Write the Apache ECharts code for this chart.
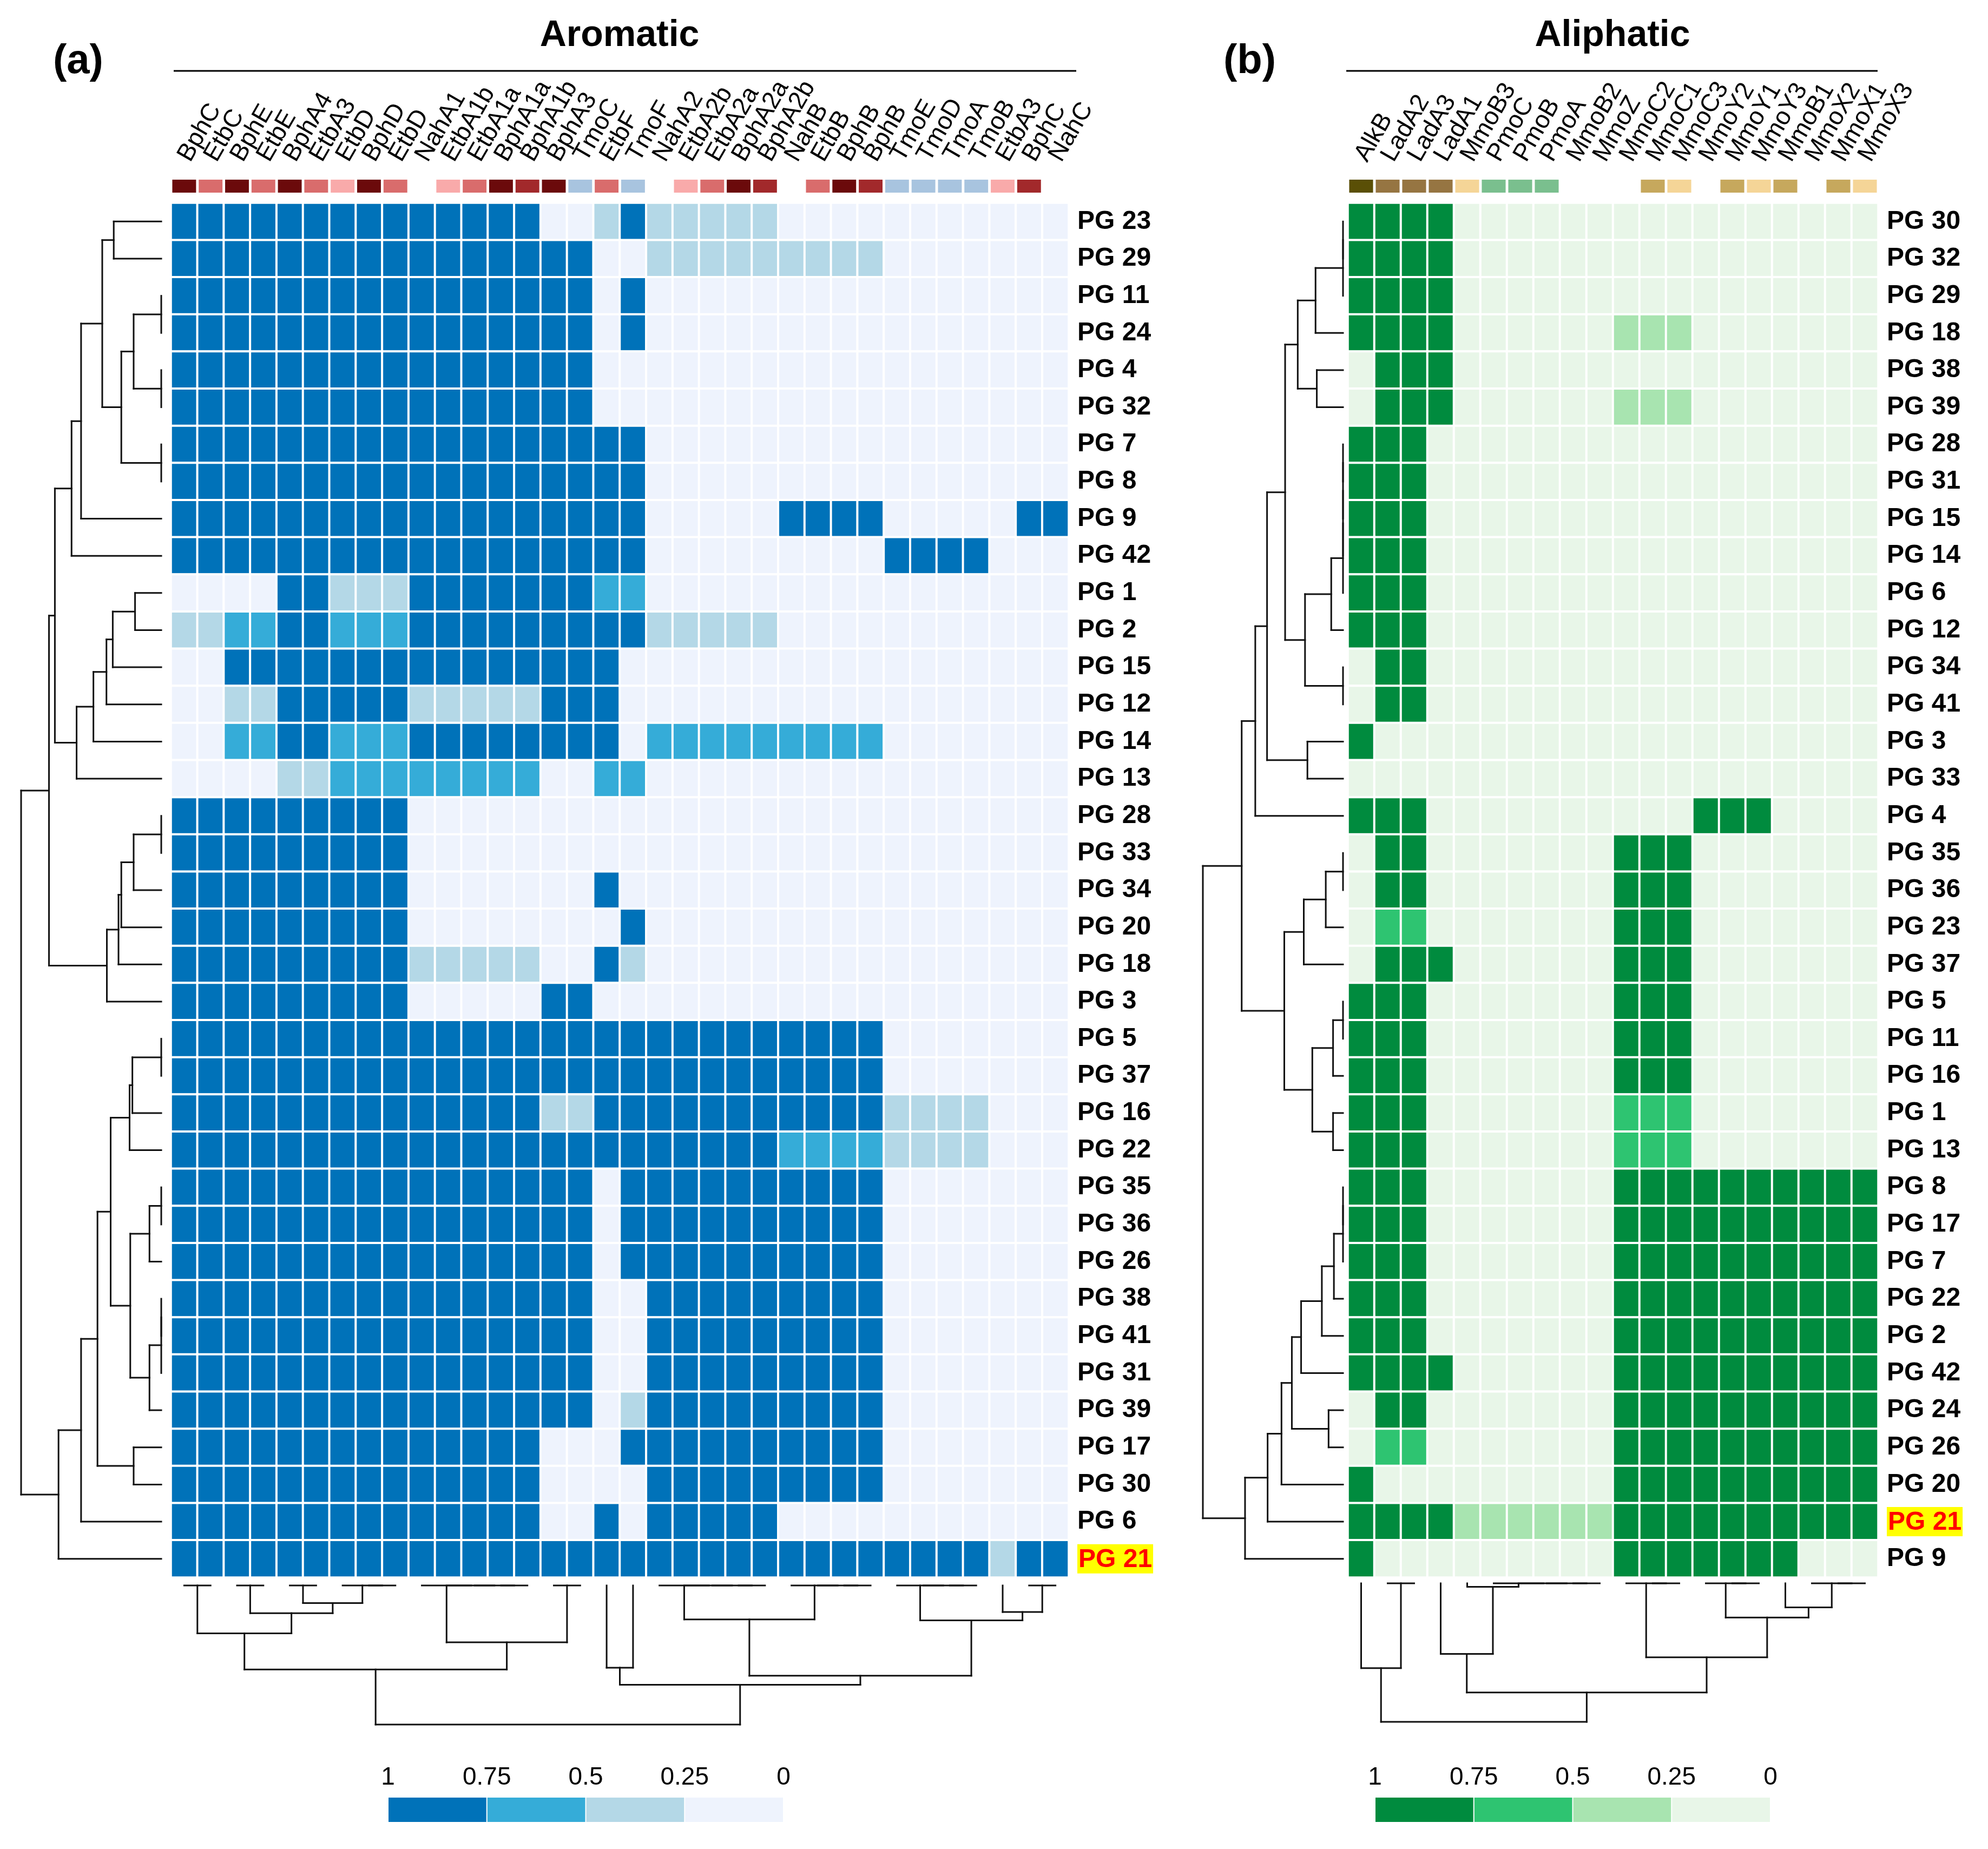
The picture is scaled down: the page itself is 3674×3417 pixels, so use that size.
<!DOCTYPE html>
<html><head><meta charset="utf-8">
<script src="https://cdn.jsdelivr.net/npm/echarts@6/dist/echarts.min.js"></script>
<style>html,body{margin:0;padding:0;background:#fff}#c{width:3674px;height:3417px}</style>
</head><body><div id="c"></div>
<script>
const FONT = "'Liberation Sans', Arial, sans-serif";

// ---------- Aromatic (a) ----------
const aroGenes = ['BphC','EtbC','BphE','EtbE','BphA4','EtbA3','EtbD','BphD','EtbD','NahA1','EtbA1b','EtbA1a','BphA1a','BphA1b','BphA3','TmoC','EtbF','TmoF','NahA2','EtbA2b','EtbA2a','BphA2a','BphA2b','NahB','EtbB','BphB','BphB','TmoE','TmoD','TmoA','TmoB','EtbA3','BphC','NahC'];
const aroGroups = [1,2,1,2,1,2,3,1,2,0,3,2,1,4,1,5,2,5,0,3,2,1,4,0,2,1,4,5,5,5,5,3,4,0];
const aroGroupColors = ['', '#6b0a0b', '#d96c6c', '#f9aaaa', '#a2292b', '#a8c4df'];
const aroRows = ['PG 23','PG 29','PG 11','PG 24','PG 4','PG 32','PG 7','PG 8','PG 9','PG 42','PG 1','PG 2','PG 15','PG 12','PG 14','PG 13','PG 28','PG 33','PG 34','PG 20','PG 18','PG 3','PG 5','PG 37','PG 16','PG 22','PG 35','PG 36','PG 26','PG 38','PG 41','PG 31','PG 39','PG 17','PG 30','PG 6','PG 21'];
const aroValues = [
 [1,1,1,1,1,1,1,1,1,1, 1,1,1,1,0,0,.4,1,.4,.4, .4,.4,.4,0,0,0,0,0,0,0, 0,0,0,0],
 [1,1,1,1,1,1,1,1,1,1, 1,1,1,1,1,1,0,0,.4,.4, .4,.4,.4,.4,.4,.4,.4,0,0,0, 0,0,0,0],
 [1,1,1,1,1,1,1,1,1,1, 1,1,1,1,1,1,0,1,0,0, 0,0,0,0,0,0,0,0,0,0, 0,0,0,0],
 [1,1,1,1,1,1,1,1,1,1, 1,1,1,1,1,1,0,1,0,0, 0,0,0,0,0,0,0,0,0,0, 0,0,0,0],
 [1,1,1,1,1,1,1,1,1,1, 1,1,1,1,1,1,0,0,0,0, 0,0,0,0,0,0,0,0,0,0, 0,0,0,0],
 [1,1,1,1,1,1,1,1,1,1, 1,1,1,1,1,1,0,0,0,0, 0,0,0,0,0,0,0,0,0,0, 0,0,0,0],
 [1,1,1,1,1,1,1,1,1,1, 1,1,1,1,1,1,1,1,0,0, 0,0,0,0,0,0,0,0,0,0, 0,0,0,0],
 [1,1,1,1,1,1,1,1,1,1, 1,1,1,1,1,1,1,1,0,0, 0,0,0,0,0,0,0,0,0,0, 0,0,0,0],
 [1,1,1,1,1,1,1,1,1,1, 1,1,1,1,1,1,1,1,0,0, 0,0,0,1,1,1,1,0,0,0, 0,0,1,1],
 [1,1,1,1,1,1,1,1,1,1, 1,1,1,1,1,1,1,1,0,0, 0,0,0,0,0,0,0,1,1,1, 1,0,0,0],
 [0,0,0,0,1,1,.4,.4,.4,1, 1,1,1,1,1,1,.7,.7,0,0, 0,0,0,0,0,0,0,0,0,0, 0,0,0,0],
 [.4,.4,.7,.7,1,1,.7,.7,.7,1, 1,1,1,1,1,1,1,1,.4,.4, .4,.4,.4,0,0,0,0,0,0,0, 0,0,0,0],
 [0,0,1,1,1,1,1,1,1,1, 1,1,1,1,1,1,1,0,0,0, 0,0,0,0,0,0,0,0,0,0, 0,0,0,0],
 [0,0,.4,.4,1,1,1,1,1,.4, .4,.4,.4,.4,1,1,1,0,0,0, 0,0,0,0,0,0,0,0,0,0, 0,0,0,0],
 [0,0,.7,.7,1,1,.7,.7,.7,1, 1,1,1,1,1,1,1,0,.7,.7, .7,.7,.7,.7,.7,.7,.7,0,0,0, 0,0,0,0],
 [0,0,0,0,.4,.4,.7,.7,.7,.7, .7,.7,.7,.7,0,0,.7,.7,0,0, 0,0,0,0,0,0,0,0,0,0, 0,0,0,0],
 [1,1,1,1,1,1,1,1,1,0, 0,0,0,0,0,0,0,0,0,0, 0,0,0,0,0,0,0,0,0,0, 0,0,0,0],
 [1,1,1,1,1,1,1,1,1,0, 0,0,0,0,0,0,0,0,0,0, 0,0,0,0,0,0,0,0,0,0, 0,0,0,0],
 [1,1,1,1,1,1,1,1,1,0, 0,0,0,0,0,0,1,0,0,0, 0,0,0,0,0,0,0,0,0,0, 0,0,0,0],
 [1,1,1,1,1,1,1,1,1,0, 0,0,0,0,0,0,0,1,0,0, 0,0,0,0,0,0,0,0,0,0, 0,0,0,0],
 [1,1,1,1,1,1,1,1,1,.4, .4,.4,.4,.4,0,0,1,.4,0,0, 0,0,0,0,0,0,0,0,0,0, 0,0,0,0],
 [1,1,1,1,1,1,1,1,1,0, 0,0,0,0,1,1,0,0,0,0, 0,0,0,0,0,0,0,0,0,0, 0,0,0,0],
 [1,1,1,1,1,1,1,1,1,1, 1,1,1,1,1,1,1,1,1,1, 1,1,1,1,1,1,1,0,0,0, 0,0,0,0],
 [1,1,1,1,1,1,1,1,1,1, 1,1,1,1,1,1,1,1,1,1, 1,1,1,1,1,1,1,0,0,0, 0,0,0,0],
 [1,1,1,1,1,1,1,1,1,1, 1,1,1,1,.4,.4,1,1,1,1, 1,1,1,1,1,1,1,.4,.4,.4, .4,0,0,0],
 [1,1,1,1,1,1,1,1,1,1, 1,1,1,1,1,1,1,1,1,1, 1,1,1,.7,.7,.7,.7,.4,.4,.4, .4,0,0,0],
 [1,1,1,1,1,1,1,1,1,1, 1,1,1,1,1,1,0,1,1,1, 1,1,1,1,1,1,1,0,0,0, 0,0,0,0],
 [1,1,1,1,1,1,1,1,1,1, 1,1,1,1,1,1,0,1,1,1, 1,1,1,1,1,1,1,0,0,0, 0,0,0,0],
 [1,1,1,1,1,1,1,1,1,1, 1,1,1,1,1,1,0,1,1,1, 1,1,1,1,1,1,1,0,0,0, 0,0,0,0],
 [1,1,1,1,1,1,1,1,1,1, 1,1,1,1,1,1,0,0,1,1, 1,1,1,1,1,1,1,0,0,0, 0,0,0,0],
 [1,1,1,1,1,1,1,1,1,1, 1,1,1,1,1,1,0,0,1,1, 1,1,1,1,1,1,1,0,0,0, 0,0,0,0],
 [1,1,1,1,1,1,1,1,1,1, 1,1,1,1,1,1,0,0,1,1, 1,1,1,1,1,1,1,0,0,0, 0,0,0,0],
 [1,1,1,1,1,1,1,1,1,1, 1,1,1,1,1,1,0,.4,1,1, 1,1,1,1,1,1,1,0,0,0, 0,0,0,0],
 [1,1,1,1,1,1,1,1,1,1, 1,1,1,1,0,0,0,1,1,1, 1,1,1,1,1,1,1,0,0,0, 0,0,0,0],
 [1,1,1,1,1,1,1,1,1,1, 1,1,1,1,0,0,0,0,1,1, 1,1,1,1,1,1,1,0,0,0, 0,0,0,0],
 [1,1,1,1,1,1,1,1,1,1, 1,1,1,1,0,0,1,0,1,1, 1,1,1,0,0,0,0,0,0,0, 0,0,0,0],
 [1,1,1,1,1,1,1,1,1,1, 1,1,1,1,1,1,1,1,1,1, 1,1,1,1,1,1,1,1,1,1, 1,.4,1,1]
];
// dendrograms: node = leaf index or [left, right, height]
const aroRowTree = [
 [
  [
   [
    [ [0,1,33.9], [ [ [2,3,0], [4,5,0], 19.7 ], [6,7,0], 28.5 ], 42.1 ],
    8, 57.2
   ], 9, 64.0
  ],
  [ [ [ [ [10,11,18.7], 12, 34.6 ], 13, 39.1 ], 14, 48.4 ], 15, 60.4 ],
  75.9
 ],
 [ [ [ [ [16,17,0], 18, 19.7 ], 19, 28.5 ], 20, 30.5 ], 21, 38.8 ],
 80.1
];
const aroRowTreeB = [
 [
  [
   [
    [ [ [22,23,0], 24, 20.6 ], 25, 22.6 ],
    [ [ [26,27,0], 28, 8.4 ], [ [ [29,30,0], 31, 0 ], 32, 8.4 ], 22.1 ],
    36.1
   ],
   [33,34,19.7], 45.5
  ], 35, 57.2
 ], 36, 73.3
];
const aroRowRootHeight = 100;
const aroColTree = [
 [
  [ [0,1,0], [ [2,3,0], [ [4,5,0], [6,[7,8,0],0], 12.6 ], 19.9 ], 34.4 ],
  [ [9,[10,[11,[12,13,0],0],0],0], [14,15,0], 40.9 ],
  60.4
 ],
 [
  [16,17,59.1],
  [
   [ [18,[19,[20,[21,22,0],0],0],0], [23,[24,[25,26,0],0],0], 24.4 ],
   [ [27,[28,[29,30,0],0],0], [31,[32,33,0],19.1], 25.1 ],
   64.9
  ],
  71.4
 ],
 100
];

// ---------- Aliphatic (b) ----------
const aliGenes = ['AlkB','LadA2','LadA3','LadA1','MmoB3','PmoC','PmoB','PmoA','MmoB2','MmoZ','MmoC2','MmoC1','MmoC3','MmoY2','MmoY1','MmoY3','MmoB1','MmoX2','MmoX1','MmoX3'];
const aliGroups = [1,2,2,2,3,4,4,4,0,0,0,5,3,0,5,3,5,0,5,3];
const aliGroupColors = ['', '#5a4f06', '#967542', '#f5d597', '#7abf8e', '#c6a85d'];
const aliRows = ['PG 30','PG 32','PG 29','PG 18','PG 38','PG 39','PG 28','PG 31','PG 15','PG 14','PG 6','PG 12','PG 34','PG 41','PG 3','PG 33','PG 4','PG 35','PG 36','PG 23','PG 37','PG 5','PG 11','PG 16','PG 1','PG 13','PG 8','PG 17','PG 7','PG 22','PG 2','PG 42','PG 24','PG 26','PG 20','PG 21','PG 9'];
const aliValues = [
 [1,1,1,1,0,0,0,0,0,0, 0,0,0,0,0,0,0,0,0,0],
 [1,1,1,1,0,0,0,0,0,0, 0,0,0,0,0,0,0,0,0,0],
 [1,1,1,1,0,0,0,0,0,0, 0,0,0,0,0,0,0,0,0,0],
 [1,1,1,1,0,0,0,0,0,0, .4,.4,.4,0,0,0,0,0,0,0],
 [0,1,1,1,0,0,0,0,0,0, 0,0,0,0,0,0,0,0,0,0],
 [0,1,1,1,0,0,0,0,0,0, .4,.4,.4,0,0,0,0,0,0,0],
 [1,1,1,0,0,0,0,0,0,0, 0,0,0,0,0,0,0,0,0,0],
 [1,1,1,0,0,0,0,0,0,0, 0,0,0,0,0,0,0,0,0,0],
 [1,1,1,0,0,0,0,0,0,0, 0,0,0,0,0,0,0,0,0,0],
 [1,1,1,0,0,0,0,0,0,0, 0,0,0,0,0,0,0,0,0,0],
 [1,1,1,0,0,0,0,0,0,0, 0,0,0,0,0,0,0,0,0,0],
 [1,1,1,0,0,0,0,0,0,0, 0,0,0,0,0,0,0,0,0,0],
 [0,1,1,0,0,0,0,0,0,0, 0,0,0,0,0,0,0,0,0,0],
 [0,1,1,0,0,0,0,0,0,0, 0,0,0,0,0,0,0,0,0,0],
 [1,0,0,0,0,0,0,0,0,0, 0,0,0,0,0,0,0,0,0,0],
 [0,0,0,0,0,0,0,0,0,0, 0,0,0,0,0,0,0,0,0,0],
 [1,1,1,0,0,0,0,0,0,0, 0,0,0,1,1,1,0,0,0,0],
 [0,1,1,0,0,0,0,0,0,0, 1,1,1,0,0,0,0,0,0,0],
 [0,1,1,0,0,0,0,0,0,0, 1,1,1,0,0,0,0,0,0,0],
 [0,.7,.7,0,0,0,0,0,0,0, 1,1,1,0,0,0,0,0,0,0],
 [0,1,1,1,0,0,0,0,0,0, 1,1,1,0,0,0,0,0,0,0],
 [1,1,1,0,0,0,0,0,0,0, 1,1,1,0,0,0,0,0,0,0],
 [1,1,1,0,0,0,0,0,0,0, 1,1,1,0,0,0,0,0,0,0],
 [1,1,1,0,0,0,0,0,0,0, 1,1,1,0,0,0,0,0,0,0],
 [1,1,1,0,0,0,0,0,0,0, .7,.7,.7,0,0,0,0,0,0,0],
 [1,1,1,0,0,0,0,0,0,0, .7,.7,.7,0,0,0,0,0,0,0],
 [1,1,1,0,0,0,0,0,0,0, 1,1,1,1,1,1,1,1,1,1],
 [1,1,1,0,0,0,0,0,0,0, 1,1,1,1,1,1,1,1,1,1],
 [1,1,1,0,0,0,0,0,0,0, 1,1,1,1,1,1,1,1,1,1],
 [1,1,1,0,0,0,0,0,0,0, 1,1,1,1,1,1,1,1,1,1],
 [1,1,1,0,0,0,0,0,0,0, 1,1,1,1,1,1,1,1,1,1],
 [1,1,1,1,0,0,0,0,0,0, 1,1,1,1,1,1,1,1,1,1],
 [0,1,1,0,0,0,0,0,0,0, 1,1,1,1,1,1,1,1,1,1],
 [0,.7,.7,0,0,0,0,0,0,0, 1,1,1,1,1,1,1,1,1,1],
 [1,0,0,0,0,0,0,0,0,0, 1,1,1,1,1,1,1,1,1,1],
 [1,1,1,1,.4,.4,.4,.4,.4,.4, 1,1,1,1,1,1,1,1,1,1],
 [1,0,0,0,0,0,0,0,0,0, 1,1,1,1,1,1,1,0,0,0]
];
const aliRowTree = [
 [
  [
   [
    [
     [ [ [ [0,1,0], 2, 0 ], 3, 19.6 ], [4,5,18.7], 32.3 ],
     [ [ [ [ [ [6,7,0], 8, 0 ], 9, 0 ], 10, 0 ], 11, 8.4 ], [12,13,0], 27.1 ],
     41.3
    ],
    [14,15,25.4], 54.2
   ], 16, 62.6
  ],
  [
   [ [ [17,18,0], 19, 12.3 ], 20, 28.0 ],
   [ [ [21,22,0], 23, 7.1 ], [24,25,7.1], 21.9 ],
   41.9
  ],
  72.3
 ],
 [
  [
   [
    [
     [ [ [ [ [26,27,0], 28, 0 ], 29, 6.5 ], 30, 15.1 ], 31, 29.9 ],
     [32,33,10.3], 36.5
    ], 34, 43.9
   ], 35, 53.8
  ], 36, 69.9
 ],
 100
];
const aliColTree = [
 [0,[1,2,0],61.2],
 [
  [3,[4,[5,[6,[7,[8,9,0],0],0],0],2.5],51.0],
  [ [10,[11,12,0],0], [ [13,[14,15,0],0], [16,[17,[18,19,0],0],17.4], 24.7 ], 53.4 ],
  78.8
 ],
 100
];

// ---------- colour scales ----------
const blueScale = ['#0072b9', '#35acd8', '#b4d8e7', '#eef3fd'];
const greenScale = ['#008b3e', '#2ec471', '#a8e4b0', '#e8f6e8'];
const legendBins = [[1, 0.75], [0.75, 0.5], [0.5, 0.25], [0.25, 0]];

// ---------- helpers ----------
function cells(matrix) {
  const out = [];
  matrix.forEach((row, y) => row.forEach((v, x) => out.push([x, y, v])));
  return out;
}
function walk(node, segs) {
  if (typeof node === 'number') return { pos: node, h: 0 };
  const a = walk(node[0], segs), b = walk(node[1], segs), H = node[2];
  segs.push([a.pos, a.h, a.pos, H]);
  segs.push([b.pos, b.h, b.pos, H]);
  segs.push([a.pos, H, b.pos, H]);
  return { pos: (a.pos + b.pos) / 2, h: H };
}
function treeSegs(tree, horizontal) {
  const segs = [];
  walk(tree, segs);
  return horizontal ? segs.map(s => [s[1], s[0], s[3], s[2]]) : segs;
}
const aroRowFull = [aroRowTree, aroRowTreeB, aroRowRootHeight];

function segRender(params, api) {
  const p1 = api.coord([api.value(0), api.value(1)]);
  const p2 = api.coord([api.value(2), api.value(3)]);
  return { type: 'line', shape: { x1: p1[0], y1: p1[1], x2: p2[0], y2: p2[1] },
           style: { stroke: '#111', lineWidth: 3, lineCap: 'square' } };
}
function annotRender(colors) {
  return function (params, api) {
    const c = api.coord([api.value(0), 0.5]);
    const s = api.size([1, 1]);
    const w = s[0] * 0.9, h = s[1];
    return { type: 'rect', shape: { x: c[0] - w / 2, y: c[1] - h / 2, width: w, height: h },
             style: { fill: colors[api.value(1)] } };
  };
}
function legendRender(colors) {
  return function (params, api) {
    const p1 = api.coord([api.value(0), 1]);
    const p2 = api.coord([api.value(1), 0]);
    const x = Math.min(p1[0], p2[0]) + 1, w = Math.abs(p2[0] - p1[0]) - 2;
    return { type: 'rect', shape: { x: x, y: p1[1], width: w, height: p2[1] - p1[1] },
             style: { fill: colors[api.value(2)] } };
  };
}
const rowLabel = {
  show: true, interval: 0, margin: 16, fontSize: 48, fontWeight: 'bold', fontFamily: FONT, color: '#000',
  formatter: v => (v === 'PG 21' ? '{hl|' + v + '}' : '{n|' + v + '}'),
  rich: {
    n: { fontSize: 48, fontWeight: 'bold', fontFamily: FONT, color: '#000' },
    hl: { fontSize: 48, fontWeight: 'bold', fontFamily: FONT, color: '#ff0000', backgroundColor: '#ffff00', padding: [5, 2, 1, 2] }
  }
};
const colLabel = { show: true, interval: 0, rotate: -60, margin: 80, fontSize: 46, fontFamily: FONT, color: '#000' };
const hidden = { show: false };
const G = (l, t, w, h) => ({ left: l, top: t, width: w, height: h, containLabel: false, outerBoundsMode: 'none' });

const LEFT_X = 316, LEFT_W = 1659, RIGHT_X = 2491, RIGHT_W = 980, TOP = 375, HM_H = 2540;

const option = {
  backgroundColor: '#fff',
  animation: false,
  grid: [
    G(LEFT_X, TOP, LEFT_W, HM_H),
    G(RIGHT_X, TOP, RIGHT_W, HM_H),
    G(LEFT_X, 332, LEFT_W, 24),
    G(RIGHT_X, 332, RIGHT_W, 24),
    G(39, TOP, 259, HM_H),
    G(LEFT_X, 2930, LEFT_W, 257),
    G(2223, TOP, 259, HM_H),
    G(RIGHT_X, 2926, RIGHT_W, 256),
    G(717, 3322, 731, 45),
    G(2541, 3322, 731, 45)
  ],
  xAxis: [
    { gridIndex: 0, type: 'category', data: aroGenes, position: 'top', axisLine: hidden, axisTick: hidden, splitLine: hidden, axisLabel: colLabel },
    { gridIndex: 1, type: 'category', data: aliGenes, position: 'top', axisLine: hidden, axisTick: hidden, splitLine: hidden, axisLabel: colLabel },
    { gridIndex: 2, type: 'value', min: -0.5, max: 33.5, show: false },
    { gridIndex: 3, type: 'value', min: -0.5, max: 19.5, show: false },
    { gridIndex: 4, type: 'value', min: 0, max: 100, inverse: true, show: false },
    { gridIndex: 5, type: 'value', min: -0.5, max: 33.5, show: false },
    { gridIndex: 6, type: 'value', min: 0, max: 100, inverse: true, show: false },
    { gridIndex: 7, type: 'value', min: -0.5, max: 19.5, show: false },
    { gridIndex: 8, type: 'value', min: 0, max: 1, interval: 0.25, inverse: true, position: 'top',
      axisLine: hidden, axisTick: hidden, splitLine: hidden,
      axisLabel: { fontSize: 46, fontFamily: FONT, color: '#000', margin: 14, showMinLabel: true, showMaxLabel: true } },
    { gridIndex: 9, type: 'value', min: 0, max: 1, interval: 0.25, inverse: true, position: 'top',
      axisLine: hidden, axisTick: hidden, splitLine: hidden,
      axisLabel: { fontSize: 46, fontFamily: FONT, color: '#000', margin: 14, showMinLabel: true, showMaxLabel: true } }
  ],
  yAxis: [
    { gridIndex: 0, type: 'category', data: aroRows, inverse: true, position: 'right', axisLine: hidden, axisTick: hidden, splitLine: hidden, axisLabel: rowLabel },
    { gridIndex: 1, type: 'category', data: aliRows, inverse: true, position: 'right', axisLine: hidden, axisTick: hidden, splitLine: hidden, axisLabel: rowLabel },
    { gridIndex: 2, type: 'value', min: 0, max: 1, show: false },
    { gridIndex: 3, type: 'value', min: 0, max: 1, show: false },
    { gridIndex: 4, type: 'value', min: -0.5, max: 36.5, inverse: true, show: false },
    { gridIndex: 5, type: 'value', min: 0, max: 100, inverse: true, show: false },
    { gridIndex: 6, type: 'value', min: -0.5, max: 36.5, inverse: true, show: false },
    { gridIndex: 7, type: 'value', min: 0, max: 100, inverse: true, show: false },
    { gridIndex: 8, type: 'value', min: 0, max: 1, show: false },
    { gridIndex: 9, type: 'value', min: 0, max: 1, show: false }
  ],
  visualMap: [
    { type: 'piecewise', show: false, seriesIndex: 0, dimension: 2,
      pieces: [ { gte: 0.75, color: blueScale[0] }, { gte: 0.5, lt: 0.75, color: blueScale[1] },
                { gte: 0.25, lt: 0.5, color: blueScale[2] }, { lt: 0.25, color: blueScale[3] } ] },
    { type: 'piecewise', show: false, seriesIndex: 1, dimension: 2,
      pieces: [ { gte: 0.75, color: greenScale[0] }, { gte: 0.5, lt: 0.75, color: greenScale[1] },
                { gte: 0.25, lt: 0.5, color: greenScale[2] }, { lt: 0.25, color: greenScale[3] } ] }
  ],
  graphic: [
    { type: 'text', x: 98, y: 114, style: { text: '(a)', fontSize: 76, fontWeight: 'bold', fontFamily: FONT, fill: '#000', align: 'left', verticalAlign: 'middle' } },
    { type: 'text', x: 2261, y: 114, style: { text: '(b)', fontSize: 76, fontWeight: 'bold', fontFamily: FONT, fill: '#000', align: 'left', verticalAlign: 'middle' } },
    { type: 'text', x: 1145, y: 66, style: { text: 'Aromatic', fontSize: 68, fontWeight: 'bold', fontFamily: FONT, fill: '#000', align: 'center', verticalAlign: 'middle' } },
    { type: 'text', x: 2980, y: 66, style: { text: 'Aliphatic', fontSize: 68, fontWeight: 'bold', fontFamily: FONT, fill: '#000', align: 'center', verticalAlign: 'middle' } },
    { type: 'line', shape: { x1: 321, y1: 131, x2: 1989, y2: 131 }, style: { stroke: '#000', lineWidth: 3 } },
    { type: 'line', shape: { x1: 2488, y1: 131, x2: 3470, y2: 131 }, style: { stroke: '#000', lineWidth: 3 } }
  ],
  series: [
    { type: 'heatmap', xAxisIndex: 0, yAxisIndex: 0, data: cells(aroValues),
      itemStyle: { borderColor: '#fff', borderWidth: 4 }, emphasis: { disabled: true }, progressive: 0 },
    { type: 'heatmap', xAxisIndex: 1, yAxisIndex: 1, data: cells(aliValues),
      itemStyle: { borderColor: '#fff', borderWidth: 4 }, emphasis: { disabled: true }, progressive: 0 },
    { type: 'custom', xAxisIndex: 2, yAxisIndex: 2, clip: false, silent: true,
      data: aroGroups.map((g, i) => [i, g]).filter(d => d[1] > 0), renderItem: annotRender(aroGroupColors) },
    { type: 'custom', xAxisIndex: 3, yAxisIndex: 3, clip: false, silent: true,
      data: aliGroups.map((g, i) => [i, g]).filter(d => d[1] > 0), renderItem: annotRender(aliGroupColors) },
    { type: 'custom', xAxisIndex: 4, yAxisIndex: 4, clip: false, silent: true,
      data: treeSegs(aroRowFull, true), renderItem: segRender },
    { type: 'custom', xAxisIndex: 5, yAxisIndex: 5, clip: false, silent: true,
      data: treeSegs(aroColTree, false), renderItem: segRender },
    { type: 'custom', xAxisIndex: 6, yAxisIndex: 6, clip: false, silent: true,
      data: treeSegs(aliRowTree, true), renderItem: segRender },
    { type: 'custom', xAxisIndex: 7, yAxisIndex: 7, clip: false, silent: true,
      data: treeSegs(aliColTree, false), renderItem: segRender },
    { type: 'custom', xAxisIndex: 8, yAxisIndex: 8, clip: false, silent: true,
      data: legendBins.map((b, i) => [b[0], b[1], i]), renderItem: legendRender(blueScale) },
    { type: 'custom', xAxisIndex: 9, yAxisIndex: 9, clip: false, silent: true,
      data: legendBins.map((b, i) => [b[0], b[1], i]), renderItem: legendRender(greenScale) }
  ]
};
const chart = echarts.init(document.getElementById('c'), null, { renderer: 'canvas' });
chart.setOption(option);
</script>
</body></html>
